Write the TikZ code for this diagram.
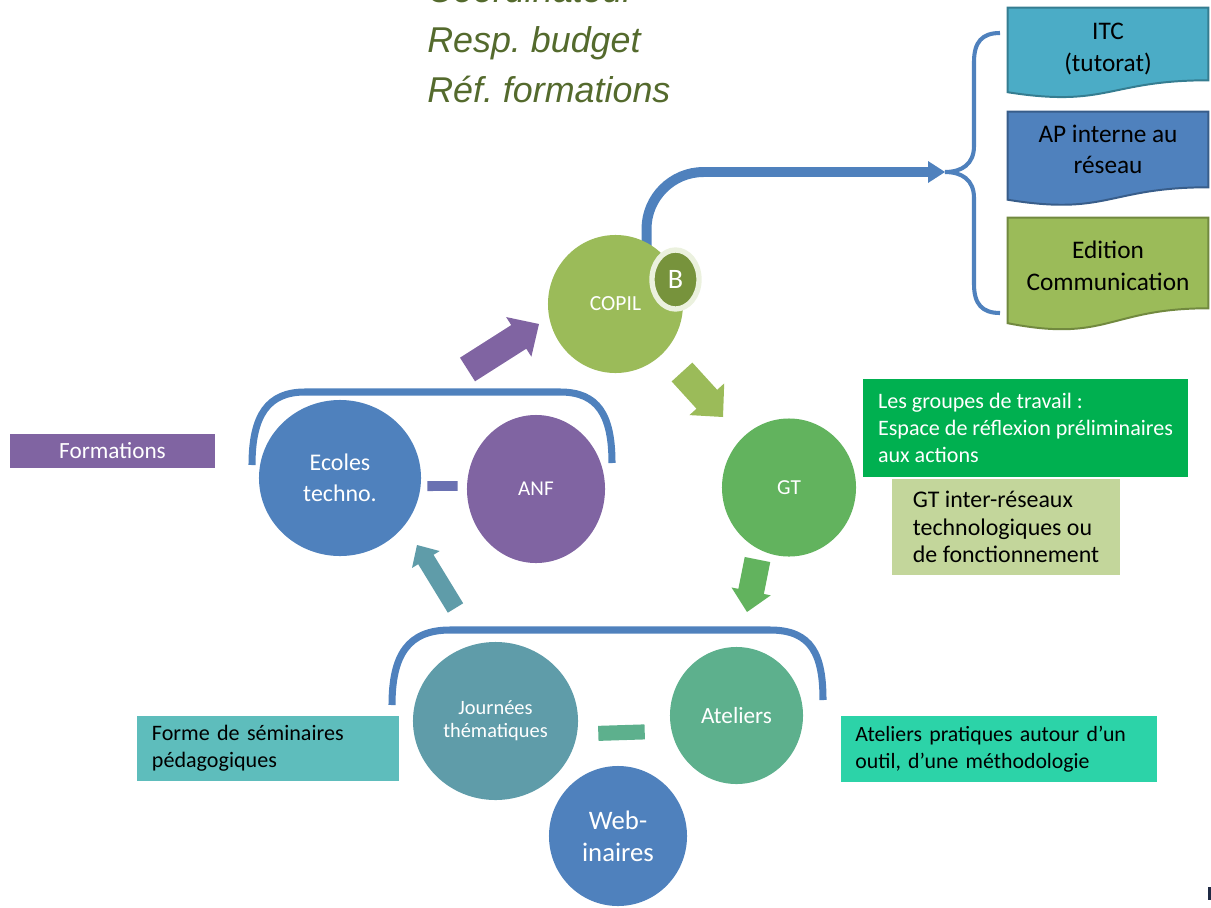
\documentclass[tikz,border=0pt]{standalone}
\usepackage{fontspec}
\setmainfont{Carlito}
\newfontfamily\rolesfont{Liberation Sans}
\usetikzlibrary{shapes.geometric,calc}

\definecolor{blueA}{HTML}{4F81BD}
\definecolor{purpleA}{HTML}{8064A2}
\definecolor{copilgreen}{HTML}{9BBB59}
\definecolor{bgreen}{HTML}{77933C}
\definecolor{bring}{HTML}{EBF1DE}
\definecolor{gtgreen}{HTML}{62B35E}
\definecolor{tealJ}{HTML}{5F9CA9}
\definecolor{atelierG}{HTML}{5DB08D}
\definecolor{ecolink}{HTML}{6A71B2}
\definecolor{boxgreen}{HTML}{00B050}
\definecolor{boxlight}{HTML}{C3D69B}
\definecolor{boxteal}{HTML}{5EBDBC}
\definecolor{boxmint}{HTML}{2CD3A8}
\definecolor{rolesgreen}{HTML}{546A2D}
\definecolor{itcfill}{HTML}{4BACC6}
\definecolor{itcline}{HTML}{357D91}
\definecolor{apline}{HTML}{385D8A}
\definecolor{edline}{HTML}{71893F}
\definecolor{markdark}{HTML}{1F2A44}

\pgfdeclarelayer{back}
\pgfsetlayers{back,main}

\newcommand\docpath[1]{(#1.north west) -- (#1.north east) -- (#1.south east)
  .. controls (#1.south) and ($(#1.south)!-0.381!(#1.north)$)
  .. ($(#1.south west)!-0.1646!(#1.north west)$) -- cycle}

\newcommand\fatarrow[6]{%
  \coordinate (fathead) at ($(#3)!#6!(#2)$);
  \fill[#1] ($(#2)!#4!90:(#3)$) -- ($(fathead)!#4!90:(#3)$) -- ($(fathead)!#5!90:(#3)$)
    -- (#3) -- ($(fathead)!#5!-90:(#3)$) -- ($(fathead)!#4!-90:(#3)$)
    -- ($(#2)!#4!-90:(#3)$) -- cycle;}

\begin{document}
\begin{tikzpicture}[x=0.025cm, y=-0.025cm,
  blob/.style={ellipse, inner sep=0pt, text=white, align=center},
  docbox/.style={rectangle, minimum width=5cm, inner sep=0pt, align=center,
    font=\fontsize{18}{22.5}\selectfont},
  infobox/.style={rectangle, inner sep=0pt, align=left},
  bracket/.style={blueA, line width=5pt},
  link/.style={line width=7.1pt}]

\useasboundingbox (0,0) rectangle (1211,908);
\clip (0,0) rectangle (1211,908);

\node (roles) at (427,-24) [anchor=north west, inner sep=0pt, align=left, text=rolesgreen,
  font=\rolesfont\itshape\fontsize{25.5}{35.5}\selectfont\frenchspacing]
  {Coordinateur\\Resp. budget\\Réf. formations};

\node (itc) at (1108,44) [docbox, minimum height=1.8cm] {\rule{0pt}{19pt}ITC\\(tutorat)};
\node (ap) at (1108,149.5) [docbox, minimum height=1.875cm] {AP interne au\\réseau};
\node (edition) at (1108,263) [docbox, minimum height=2.25cm] {\rule{0pt}{16.6pt}Edition\\Communication};

\coordinate (bracetip) at (945,172);
\draw[blueA, line width=2.9pt] (1000,33) .. controls (982,33) and (974,42) .. (974,62)
  -- (974,146) .. controls (974,164) and (962,172) .. (bracetip)
  .. controls (962,172) and (974,180) .. (974,198)
  -- (974,284) .. controls (974,304) and (982,313) .. (1000,313);

\node (copil) at (615.5,304) [blob, fill=copilgreen, minimum width=3.375cm, minimum height=3.45cm,
  font=\fontsize{15.3}{18}\selectfont] {COPIL};
\node (bmark) at (675.5,279.5) [blob, fill=bgreen, draw=bring, line width=3.8pt,
  minimum width=1.175cm, minimum height=1.475cm, font=\fontsize{20}{24}\selectfont] {B};
\node (gt) at (789,487.5) [blob, fill=gtgreen, minimum width=3.35cm, minimum height=3.45cm,
  font=\fontsize{15.2}{18}\selectfont] {GT};
\node (ecoles) at (340,478) [blob, fill=blueA, minimum width=4.05cm, minimum height=3.9cm,
  font=\fontsize{17}{22}\selectfont] {Ecoles\\techno.};
\node (anf) at (536,489) [blob, fill=purpleA, minimum width=3.45cm, minimum height=3.7cm,
  font=\fontsize{15}{18}\selectfont] {ANF};
\node (journees) at (495.5,721) [blob, fill=tealJ, minimum width=4.125cm, minimum height=3.95cm,
  font=\fontsize{14.5}{16.5}\selectfont] {Journées\\thématiques};
\node (ateliers) at (736.5,715.5) [blob, fill=atelierG, minimum width=3.325cm, minimum height=3.425cm,
  font=\fontsize{16.5}{20}\selectfont] {Ateliers};
\node (webinaires) at (618,836) [blob, fill=blueA, minimum width=3.45cm, minimum height=3.5cm,
  font=\fontsize{19}{23}\selectfont] {Web-\\inaires};

\node (formations) at (112.5,451) [infobox, fill=purpleA, text=white, minimum width=5.125cm,
  minimum height=0.85cm, align=center, font=\fontsize{16.5}{20}\selectfont] {Formations};
\node (gtbox) at (1025.5,428) [infobox, fill=boxgreen, text=white, minimum width=8.14cm,
  minimum height=2.435cm, font=\fontsize{15.7}{19}\selectfont]
  {Les groupes de travail :\\Espace de réflexion préliminaires\\aux actions};
\node (gtinter) at (1006,527) [infobox, fill=boxlight, minimum width=5.675cm,
  minimum height=2.375cm, font=\fontsize{17}{19.6}\selectfont]
  {GT inter-réseaux\\technologiques ou\\de fonctionnement};
\node (seminaires) at (268,748.5) [infobox, fill=boxteal, minimum width=6.55cm,
  minimum height=1.64cm, text width=5.8cm, font=\fontsize{15.7}{19}\selectfont]
  {Forme de séminaires\\pédagogiques};
\node (pratiques) at (999,749) [infobox, fill=boxmint, minimum width=7.875cm,
  minimum height=1.65cm, text width=7.175cm, font=\fontsize{15.5}{19}\selectfont]
  {Ateliers pratiques autour d’un\\outil, d’une méthodologie};

\begin{pgfonlayer}{back}
\filldraw[fill=itcfill, draw=itcline, line width=1.4pt] \docpath{itc};
\filldraw[fill=blueA, draw=apline, line width=1.4pt] \docpath{ap};
\filldraw[fill=copilgreen, draw=edline, line width=1.4pt] \docpath{edition};
\draw[blueA, line width=7.1pt, rounded corners=1.425cm]
  ([xshift=0.775cm]copil.center) |- ([xshift=-0.425cm]bracetip);
\end{pgfonlayer}
\fill[blueA] (bracetip) -- ++(-17,-11) -- ++(0,22) -- cycle;

\draw[bracket] (252,465) .. controls (252,415) and (268,392) .. (305,392) -- (560,392)
  .. controls (598,392) and (612,415) .. (612,463);
\draw[bracket] (392,705) .. controls (392,655) and (408,630) .. (450,630) -- (770,630)
  .. controls (812,630) and (823,655) .. (823,700);

\draw[link, ecolink, shorten <=0.15cm, shorten >=0.225cm]
  ([yshift=-0.2cm]ecoles.east) -- ([yshift=0.075cm]anf.west);
\draw[link, atelierG, line width=10.7pt, shorten <=0.5cm, shorten >=0.625cm]
  ([yshift=-0.325cm]journees.east) -- ([yshift=-0.39cm]ateliers.west);

\coordinate (formout) at (467.5,369.5);
\coordinate (formin) at (539,324);
\coordinate (copilout) at (682,372);
\coordinate (gtin) at (723,417);
\coordinate (gtout) at (757.5,559.5);
\coordinate (atelin) at (747,612);
\coordinate (journout) at (455.5,608);
\coordinate (ecolin) at (417,545);
\fatarrow{purpleA}{formout}{formin}{0.35cm}{0.5875cm}{0.6cm}
\fatarrow{copilgreen}{copilout}{gtin}{0.35cm}{0.5875cm}{0.6cm}
\fatarrow{gtgreen}{gtout}{atelin}{0.325cm}{0.5cm}{0.525cm}
\fatarrow{tealJ}{journout}{ecolin}{0.225cm}{0.406cm}{0.425cm}

\fill[markdark] (1208,887) rectangle (1211,900);
\end{tikzpicture}
\end{document}
